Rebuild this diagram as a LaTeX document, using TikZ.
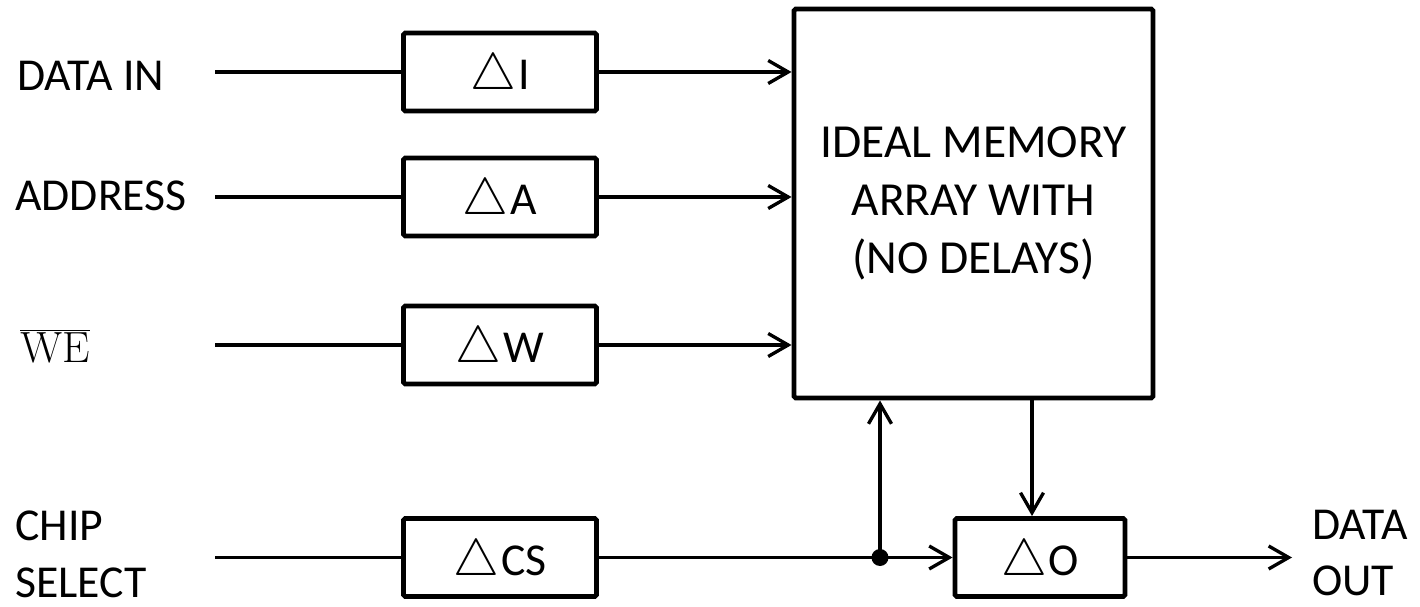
\documentclass[tikz,border=0pt]{standalone}
\usepackage[no-math]{fontspec}
\setmainfont{Carlito}
\usetikzlibrary{positioning, arrows.meta}

\newcommand{\dlt}{\scalebox{1.18}{$\bigtriangleup$}\kern1pt}

\begin{document}
\begin{tikzpicture}[font=\fontsize{26}{32.4}\selectfont,
  dly/.style={draw, line width=2.8pt, rounded corners=1pt, minimum width=3.86cm,
              minimum height=1.56cm, inner sep=0pt, text depth=0pt},
  lbl/.style={anchor=west, align=left, inner sep=0pt},
  ln/.style={line width=1.9pt},
  ar/.style={-{Straight Barb[length=4mm,width=4.6mm]}, line width=1.9pt}]
\useasboundingbox (0,0) rectangle (28.4,12.12);
% delay blocks
\node[dly] (di) at (10,10.68) {\dlt I};
\node[dly] (da) at (10,8.18) {\dlt A};
\node[dly] (dw) at (10,5.22) {\dlt W};
\node[dly] (dcs) at (10,0.97) {\dlt CS};
\node[dly, minimum width=3.4cm] (do) at (20.8,0.97) {\dlt O};
\node[dly, minimum width=7.18cm, minimum height=7.78cm, align=center,
      text depth=, font=\fontsize{27}{33.2}\selectfont] (mem) at (19.47,8.05)
  {IDEAL MEMORY\\ARRAY WITH\\(NO DELAYS)};
% signal names
\node[lbl] (lin) at (0.34,10.6) {DATA IN};
\node[lbl] (lad) at (0.3,8.2) {ADDRESS};
\node[lbl, font=\fontsize{29}{34}\selectfont] (lwe) at (0.4,5.2) {$\overline{\mathrm{WE}}$};
\node[lbl] (lcs) at (0.3,1.04) {CHIP\\SELECT};
\node[lbl] (lout) at (26.24,1.06) {DATA\\OUT};
% free line ends
\coordinate (sin) at (4.3,10.68);
\coordinate (sad) at (4.3,8.18);
\coordinate (swe) at (4.3,5.22);
\coordinate (scs) at (4.3,0.97);
\coordinate (jn) at (17.6,0.97);
\coordinate (dout) at (25.84,0.97);
\draw[ln] (sin) -- (di);
\draw[ln] (sad) -- (da);
\draw[ln] (swe) -- (dw);
\draw[ln] (scs) -- (dcs);
\draw[ar] (di) -- (di -| mem.west);
\draw[ar] (da) -- (da -| mem.west);
\draw[ar] (dw) -- (dw -| mem.west);
\draw[ar] (dcs) -- (do);
\draw[ar] (jn) -- (jn |- mem.south);
\fill (jn) circle (0.17cm);
\draw[ar] ([xshift=-0.16cm]do.north |- mem.south) -- ([xshift=-0.16cm]do.north);
\draw[ar] (do) -- (dout);
\end{tikzpicture}
\end{document}
